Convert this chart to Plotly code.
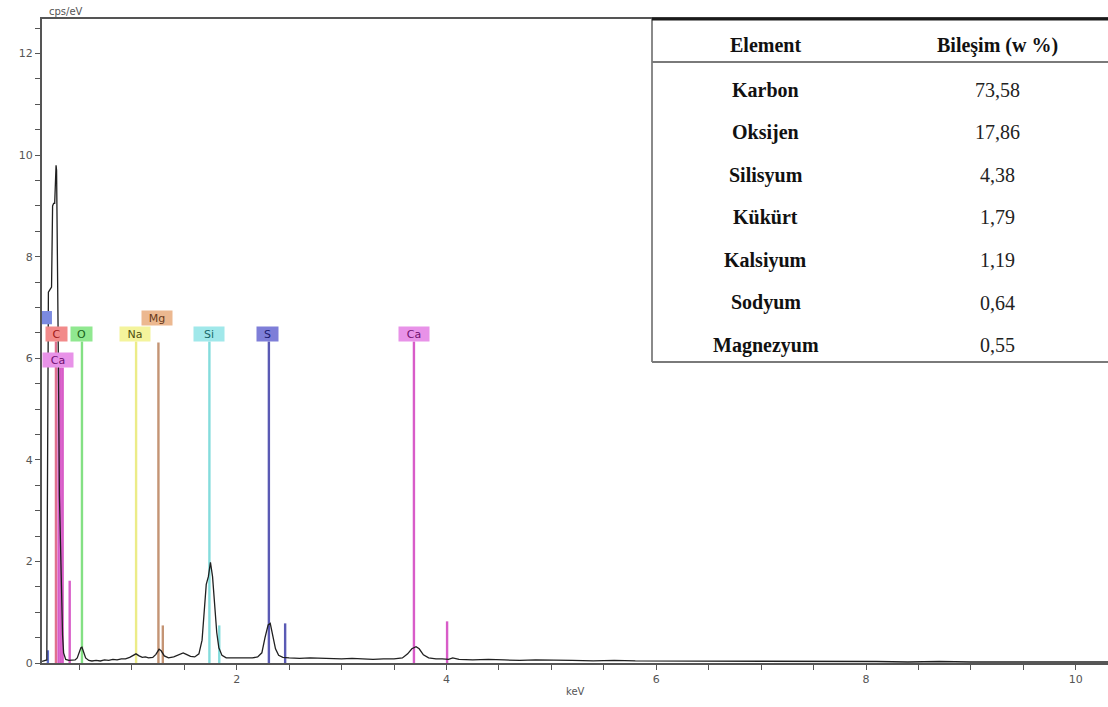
import plotly.graph_objects as go

# ---------------- data ----------------
spec_kev = [0.145, 0.17, 0.185, 0.19, 0.195, 0.205, 0.22, 0.235, 0.245, 0.255, 0.265,
            0.272, 0.278, 0.283, 0.29, 0.30, 0.31, 0.325, 0.34, 0.35, 0.37, 0.40, 0.43,
            0.46, 0.48, 0.50, 0.515, 0.525, 0.54, 0.56, 0.59, 0.62, 0.66, 0.70, 0.74,
            0.78, 0.82, 0.86, 0.90, 0.94, 0.98, 1.01, 1.04, 1.07, 1.10, 1.13, 1.16,
            1.20, 1.23, 1.26, 1.28, 1.31, 1.35, 1.40, 1.45, 1.49, 1.52, 1.56, 1.60,
            1.64, 1.67, 1.69, 1.71, 1.73, 1.75, 1.77, 1.79, 1.81, 1.83, 1.86, 1.90,
            1.95, 2.00, 2.05, 2.10, 2.15, 2.20, 2.24, 2.27, 2.30, 2.32, 2.34, 2.37,
            2.40, 2.44, 2.50, 2.60, 2.70, 2.80, 2.90, 3.00, 3.10, 3.20, 3.30, 3.40,
            3.50, 3.58, 3.63, 3.67, 3.71, 3.74, 3.78, 3.83, 3.90, 3.96, 4.02, 4.06,
            4.12, 4.25, 4.40, 4.55, 4.70, 4.85, 5.00, 5.20, 5.40, 5.60, 5.80, 6.00,
            6.30, 6.60, 6.90, 7.20, 7.50, 7.80, 8.10, 8.40, 8.70, 9.00, 9.30, 9.60,
            9.90, 10.10, 10.31]
spec_cps = [0.03, 0.04, 0.05, 0.06, 3.0, 7.3, 7.35, 7.4, 9.0, 9.05, 9.05,
            9.8, 9.8, 9.7, 8.6, 6.0, 3.3, 1.5, 0.55, 0.2, 0.07, 0.05, 0.05,
            0.06, 0.1, 0.2, 0.3, 0.31, 0.22, 0.1, 0.05, 0.04, 0.05, 0.04, 0.06,
            0.05, 0.07, 0.06, 0.08, 0.08, 0.11, 0.14, 0.18, 0.14, 0.11, 0.12, 0.1,
            0.11, 0.17, 0.27, 0.24, 0.14, 0.1, 0.12, 0.16, 0.2, 0.17, 0.13, 0.12,
            0.18, 0.45, 1.0, 1.55, 1.7, 1.98, 1.7, 1.05, 0.6, 0.3, 0.15, 0.1,
            0.1, 0.11, 0.1, 0.11, 0.1, 0.12, 0.2, 0.5, 0.75, 0.78, 0.55, 0.28,
            0.15, 0.11, 0.1, 0.09, 0.1, 0.09, 0.09, 0.08, 0.09, 0.08, 0.07, 0.08,
            0.08, 0.1, 0.18, 0.28, 0.32, 0.28, 0.16, 0.1, 0.08, 0.08, 0.07, 0.1,
            0.07, 0.06, 0.07, 0.06, 0.05, 0.06, 0.05, 0.05, 0.04, 0.05, 0.04, 0.04,
            0.04, 0.03, 0.04, 0.03, 0.03, 0.03, 0.03, 0.02, 0.03, 0.02, 0.02, 0.02,
            0.02, 0.02, 0.02]

# element marker lines (energy keV, top value, element)
line_elem   = ["C", "Ca", "Ca", "Ca", "O", "Na", "Mg", "Si", "S", "Ca",
               "B", "Ca", "Mg", "Si", "S", "Ca"]
line_energy = [0.277, 0.302, 0.322, 0.341, 0.525, 1.041, 1.254, 1.740, 2.307, 3.690,
               0.200, 0.408, 1.296, 1.834, 2.462, 4.006]
line_top    = [6.33, 5.82, 5.82, 5.82, 6.33, 6.33, 6.31, 6.33, 6.33, 6.33,
               0.25, 1.62, 0.74, 0.74, 0.78, 0.82]

# element label boxes
label_text = ["C", "Ca", "O", "Na", "Mg", "Si", "S", "Ca"]
label_x    = [0.279, 0.296, 0.522, 1.034, 1.245, 1.738, 2.296, 3.690]
label_y    = [6.47, 5.96, 6.47, 6.47, 6.79, 6.47, 6.47, 6.47]

# composition table
table_header = ["Element", "Bileşim (w %)"]
table_elements = ["Karbon", "Oksijen", "Silisyum", "Kükürt", "Kalsiyum", "Sodyum", "Magnezyum"]
table_values = ["73,58", "17,86", "4,38", "1,79", "1,19", "0,64", "0,55"]

x_tick_vals = [2, 4, 6, 8, 10]
y_tick_vals = [0, 2, 4, 6, 8, 10, 12]

# ---------------- styles ----------------
line_color = {"C": "#e0708e", "Ca": "#d85cc8", "O": "#84e084", "Na": "#ecec88",
              "Mg": "#c49474", "Si": "#84dcdc", "S": "#5a5ab4", "B": "#6070d0"}
box_fill = {"C": "#f28a8a", "Ca": "#e892e8", "O": "#90e890", "Na": "#f4f49c",
            "Mg": "#ecb890", "Si": "#a0e8ea", "S": "#7e7ed8"}
box_text = {"C": "#a01818", "Ca": "#701070", "O": "#186018", "Na": "#505010",
            "Mg": "#6a3a1a", "Si": "#1a6a6a", "S": "#1a1a70"}

W, H = 1108, 707
ML, MR, MT, MB = 42, 0, 19, 44
X_RANGE = [0.144, 10.307]
Y_RANGE = [0.0, 12.68]
AXIS_GRAY = "#555555"


def pxx(px):
    return (px - ML) / (W - ML - MR)


def pxy(py):
    return (H - MB - py) / (H - MT - MB)


fig = go.Figure()

# marker lines grouped by element
for el in dict.fromkeys(line_elem):
    xs, ys = [], []
    for e, en, top in zip(line_elem, line_energy, line_top):
        if e == el:
            xs += [en, en, None]
            ys += [0, top, None]
    fig.add_trace(go.Scatter(x=xs, y=ys, mode="lines",
                             line=dict(color=line_color[el], width=2.4),
                             hoverinfo="skip", showlegend=False))

# spectrum
fig.add_trace(go.Scatter(x=spec_kev, y=spec_cps, mode="lines",
                         line=dict(color="#202020", width=1.3),
                         showlegend=False))

annotations = []
for t, x, y in zip(label_text, label_x, label_y):
    annotations.append(dict(x=x, y=y, xref="x", yref="y", text=t, showarrow=False,
                            xanchor="center", yanchor="middle",
                            width=21 if len(t) == 1 else 30, height=14,
                            bgcolor=box_fill[t], borderpad=0,
                            font=dict(family="DejaVu Sans", size=11, color=box_text[t])))

# axis titles
annotations.append(dict(x=pxx(47), y=pxy(12), xref="paper", yref="paper", text="cps/eV",
                        showarrow=False, xanchor="left", yanchor="middle",
                        font=dict(family="DejaVu Sans", size=10, color=AXIS_GRAY)))
annotations.append(dict(x=pxx(575), y=pxy(691), xref="paper", yref="paper", text="keV",
                        showarrow=False, xanchor="center", yanchor="middle",
                        font=dict(family="DejaVu Sans", size=10, color=AXIS_GRAY)))

# table text
COL1, COL2 = 766, 997
HEAD_Y = 45
ROW_Y0, ROW_DY = 90, 42.5
serif = "Liberation Serif"
FS = 20


def cell(px, py, text, color):
    return dict(x=pxx(px), y=pxy(py), xref="paper", yref="paper", text=text,
                showarrow=False, xanchor="center", yanchor="middle",
                font=dict(family=serif, size=FS, color=color))


annotations.append(cell(COL1, HEAD_Y, "<b>%s</b>" % table_header[0], "#111"))
annotations.append(cell(COL2, HEAD_Y, "<b>%s</b>" % table_header[1], "#111"))
for i, (name, val) in enumerate(zip(table_elements, table_values)):
    yy = ROW_Y0 + i * ROW_DY
    annotations.append(cell(COL1, yy, "<b>%s</b>" % name, "#111"))
    annotations.append(cell(COL2, yy, val, "#222"))

TL, TT, TH, TB = 652, 19, 62, 362
shapes = [
    # partially hidden blue label box at the left edge (clipped by plot area)
    dict(type="rect", xref="x", yref="y", x0=0.05, x1=0.239, y0=6.67, y1=6.93,
         fillcolor="#7b8ae0", line=dict(width=0), layer="above"),
    # table background and borders
    dict(type="rect", xref="paper", yref="paper", x0=pxx(TL), x1=1.0, y0=pxy(TB), y1=pxy(TT),
         fillcolor="white", line=dict(width=0), layer="above"),
    dict(type="line", xref="paper", yref="paper", x0=pxx(TL), x1=pxx(TL), y0=pxy(TB), y1=pxy(TT),
         line=dict(color="#8a8a8a", width=2), layer="above"),
    dict(type="line", xref="paper", yref="paper", x0=pxx(TL), x1=1.0, y0=pxy(TT), y1=pxy(TT),
         line=dict(color="#1a1a1a", width=3), layer="above"),
    dict(type="line", xref="paper", yref="paper", x0=pxx(TL), x1=1.0, y0=pxy(TH), y1=pxy(TH),
         line=dict(color="#7a7a7a", width=2), layer="above"),
    dict(type="line", xref="paper", yref="paper", x0=pxx(TL), x1=1.0, y0=pxy(TB), y1=pxy(TB),
         line=dict(color="#7a7a7a", width=2), layer="above"),
]

axis_common = dict(showgrid=False, zeroline=False, showline=True, linecolor=AXIS_GRAY,
                   linewidth=2, ticks="outside", ticklen=5, tickwidth=1, tickcolor=AXIS_GRAY,
                   tickfont=dict(family="DejaVu Sans", size=11, color=AXIS_GRAY),
                   minor=dict(dtick=0.5, tick0=0, ticks="outside", ticklen=5, tickwidth=1,
                              tickcolor=AXIS_GRAY, showgrid=False))

fig.update_layout(
    width=W, height=H,
    margin=dict(l=ML, r=MR, t=MT, b=MB, pad=0),
    paper_bgcolor="white", plot_bgcolor="white",
    showlegend=False,
    xaxis=dict(range=X_RANGE, tickmode="array", tickvals=x_tick_vals,
               ticktext=[str(v) for v in x_tick_vals], mirror=True, **axis_common),
    yaxis=dict(range=Y_RANGE, tickmode="array", tickvals=y_tick_vals,
               ticktext=[str(v) for v in y_tick_vals], **axis_common),
    annotations=annotations,
    shapes=shapes,
)

fig.write_html("out.html")
